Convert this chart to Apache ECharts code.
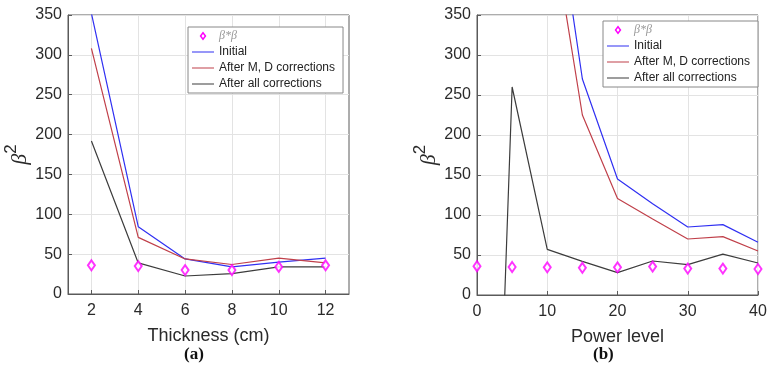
<!DOCTYPE html>
<html>
<head>
<meta charset="utf-8">
<script src="https://cdn.jsdelivr.net/npm/echarts@6/dist/echarts.min.js"></script>
<style>
    html, body { margin: 0; padding: 0; background: #fff; }
    #chart { width: 774px; height: 374px; }
</style>
</head>
<body>
<div id="chart"></div>
<script>
// (a) thickness
const thickness = [2, 4, 6, 8, 10, 12];
const thickBetaBeta = [36, 35, 30, 30, 34, 36];
const thickInitial = [352, 84.5, 44, 34, 40, 45];
const thickMD = [308, 71, 44, 37, 45, 39];
const thickAll = [192, 39, 22.6, 25.5, 34, 34];

// (b) power level
const power = [0, 5, 10, 15, 20, 25, 30, 35, 40];
const powerBetaBeta = [36, 35, 34.6, 34, 34.6, 35.5, 33, 33, 32.5];
const powerInitial = [null, null, 568, 270, 145, 114, 85, 88, 66];
const powerMD = [null, null, 497, 225, 120.5, 95, 70, 73, 55];
const powerAll = [-980, 260, 57, 42, 28, 42.5, 38, 51, 40];

const thickTicks = [2, 4, 6, 8, 10, 12];

const names = ['β*β', 'Initial', 'After M, D corrections', 'After all corrections'];
const colors = ['#ff00ff', '#3030f2', '#c0404a', '#3c3c3c'];

const font = 'Liberation Sans, Arial, sans-serif';
const axisColor = '#5a5a5a';
const labelColor = '#2a2a2a';

// hollow diamond for the legend, boxed by two dots so it keeps its size
const diamondIcon = 'path://M0,0L0.01,0L0.01,0.01Z M22,12L21.99,12L21.99,11.99Z ' +
    'M11,1.5L14.4,6L11,10.5L7.6,6Z M11,3.9L9.5,6L11,8.1L12.5,6Z';
// plain line for the legend
const lineIcon = 'path://M0,0L0.01,0L0.01,0.01Z M22,12L21.99,12L21.99,11.99Z M0,5.4L22,5.4L22,6.6L0,6.6Z';

const pairs = (xs, ys) => xs.map((x, i) => [x, ys[i]]);

const yAxisBase = (gridIndex, gap) => ({
    gridIndex: gridIndex,
    type: 'value',
    min: 0,
    max: 350,
    interval: 50,
    name: '{b|β}{s|2}',
    nameLocation: 'middle',
    nameRotate: 90,
    nameGap: gap,
    nameTextStyle: {
        rich: {
            b: { fontFamily: 'Liberation Serif', fontStyle: 'italic', fontSize: 22, color: labelColor, lineHeight: 36, verticalAlign: 'middle' },
            s: { fontFamily: font, fontSize: 17, color: labelColor, lineHeight: 18, verticalAlign: 'top' }
        }
    },
    axisLine: { show: true, lineStyle: { color: axisColor } },
    axisTick: { show: true, inside: true, length: 4, lineStyle: { color: axisColor } },
    axisLabel: { fontFamily: font, fontSize: 16, color: labelColor, margin: 6 },
    splitLine: { show: true, lineStyle: { color: '#e3e3e3' } }
});

const legendBase = (left, top) => ({
    left: left,
    top: top,
    orient: 'vertical',
    data: names.map((n, i) => ({
        name: n,
        icon: i === 0 ? diamondIcon : lineIcon,
        itemStyle: { color: colors[i], borderWidth: 0, opacity: 1 }
    })),
    backgroundColor: '#fff',
    borderColor: '#888',
    borderWidth: 1,
    borderRadius: 0,
    padding: [3, 8, 3, 4],
    itemGap: 4,
    itemWidth: 22,
    itemHeight: 12,
    textStyle: {
        fontFamily: font,
        fontSize: 12,
        color: '#222',
        rich: {
            i: { fontFamily: 'Liberation Serif', fontStyle: 'italic', fontSize: 12, color: '#999' }
        }
    },
    formatter: (n) => n === 'β*β' ? '{i|β*β}' : n
});

const makeSeries = (axisIdx, xs, bb, init, md, all) => [
    {
        name: names[0], type: 'scatter', xAxisIndex: axisIdx, yAxisIndex: axisIdx,
        symbol: 'emptyDiamond', symbolSize: [7, 10],
        itemStyle: { color: colors[0], borderColor: colors[0], borderWidth: 2 },
        data: pairs(xs, bb), z: 5
    },
    {
        name: names[1], type: 'line', xAxisIndex: axisIdx, yAxisIndex: axisIdx,
        showSymbol: false, color: colors[1],
        lineStyle: { width: 1.2, color: colors[1] }, data: pairs(xs, init)
    },
    {
        name: names[2], type: 'line', xAxisIndex: axisIdx, yAxisIndex: axisIdx,
        showSymbol: false, color: colors[2],
        lineStyle: { width: 1.2, color: colors[2] }, data: pairs(xs, md)
    },
    {
        name: names[3], type: 'line', xAxisIndex: axisIdx, yAxisIndex: axisIdx,
        showSymbol: false, color: colors[3],
        lineStyle: { width: 1.2, color: colors[3] }, data: pairs(xs, all)
    }
];

const myChart = echarts.init(document.getElementById('chart'));

const option = {
    animation: false,
    backgroundColor: '#fff',
    grid: [
        { left: 68, top: 15, width: 281, height: 279, outerBoundsMode: 'none', containLabel: false, show: true, borderColor: axisColor, borderWidth: 1, backgroundColor: 'transparent' },
        { left: 477, top: 15, width: 281, height: 280, outerBoundsMode: 'none', containLabel: false, show: true, borderColor: axisColor, borderWidth: 1, backgroundColor: 'transparent' }
    ],
    legend: [
        legendBase(188, 27),
        legendBase(603, 21)
    ],
    xAxis: [
        {
            gridIndex: 0, type: 'value', min: 1, max: 13,
            name: 'Thickness (cm)', nameLocation: 'middle', nameGap: 33,
            nameTextStyle: { fontFamily: font, fontSize: 18, color: labelColor },
            axisLine: { show: true, onZero: false, lineStyle: { color: axisColor } },
            axisTick: { show: true, inside: true, length: 4, customValues: thickTicks, lineStyle: { color: axisColor } },
            axisLabel: { fontFamily: font, fontSize: 16, color: labelColor, margin: 9, customValues: thickTicks },
            splitLine: { show: true, lineStyle: { color: '#e3e3e3' } }
        },
        {
            gridIndex: 1, type: 'value', min: 0, max: 40, interval: 10,
            name: 'Power level', nameLocation: 'middle', nameGap: 33,
            nameTextStyle: { fontFamily: font, fontSize: 18, color: labelColor },
            axisLine: { show: true, onZero: false, lineStyle: { color: axisColor } },
            axisTick: { show: true, inside: true, length: 4, lineStyle: { color: axisColor } },
            axisLabel: { fontFamily: font, fontSize: 16, color: labelColor, margin: 9 },
            splitLine: { show: true, lineStyle: { color: '#e3e3e3' } }
        }
    ],
    yAxis: [yAxisBase(0, 26), yAxisBase(1, 22)],
    series: [
        ...makeSeries(0, thickness, thickBetaBeta, thickInitial, thickMD, thickAll),
        ...makeSeries(1, power, powerBetaBeta, powerInitial, powerMD, powerAll)
    ],
    graphic: [
        { type: 'text', left: 184, top: 346, style: { text: '(a)', fontFamily: 'Liberation Serif', fontWeight: 'bold', fontSize: 17, fill: '#111' } },
        { type: 'text', left: 593, top: 346, style: { text: '(b)', fontFamily: 'Liberation Serif', fontWeight: 'bold', fontSize: 17, fill: '#111' } }
    ]
};

myChart.setOption(option);
</script>
</body>
</html>
